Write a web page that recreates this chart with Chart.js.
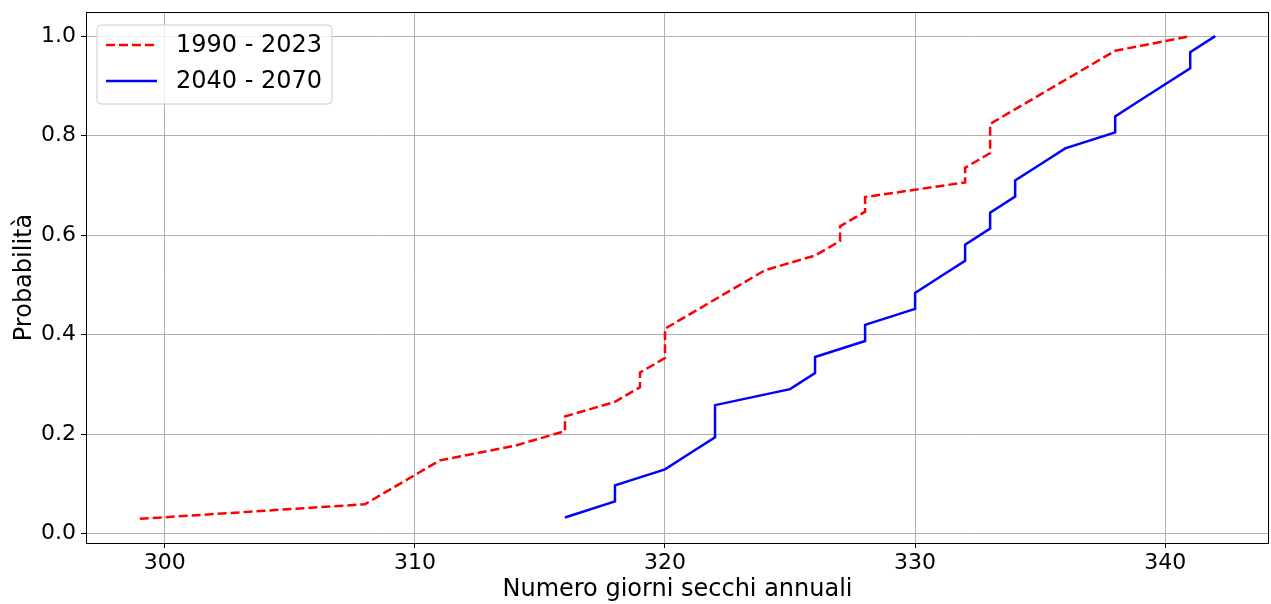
<!DOCTYPE html>
<html>
<head>
<meta charset="utf-8">
<script src="https://cdn.jsdelivr.net/npm/chart.js@4/dist/chart.umd.min.js"></script>
<style>
  html, body { margin: 0; padding: 0; background: #ffffff; }
  canvas { display: block; }
</style>
</head>
<body>
<canvas id="cdf" width="1271" height="604"></canvas>
<script>
// Annual number of dry days, one value per year, sorted ascending
const giorniSecchi_1990_2023 = [299, 308, 309, 310, 311, 314, 316, 316, 318, 319, 319, 320, 320, 320, 321, 322, 323, 324,
  326, 327, 327, 328, 328, 332, 332, 333, 333, 333, 334, 335, 336, 337, 338, 341];
const giorniSecchi_2040_2070 = [316, 318, 318, 320, 321, 322, 322, 322, 325, 326, 326, 328, 328, 330, 330, 331, 332, 332,
  333, 333, 334, 334, 335, 336, 338, 338, 339, 340, 341, 341, 342];

const seriesLabels = ['1990 - 2023', '2040 - 2070'];
const xTicks = [300, 310, 320, 330, 340];
const yTicks = [0.0, 0.2, 0.4, 0.6, 0.8, 1.0];

// Empirical cumulative distribution: k-th sorted value -> k / n
function ecdf(values) {
  const s = values.slice().sort((a, b) => a - b);
  return s.map((v, i) => ({ x: v, y: (i + 1) / s.length }));
}

const TICK_FONT = { family: 'DejaVu Sans', size: 22 };
const TITLE_FONT = { family: 'DejaVu Sans', size: 24 };
const GRID = '#b0b0b0';

const frameAndLegend = {
  id: 'frameAndLegend',
  afterDraw(chart) {
    const { ctx, chartArea: ca } = chart;
    ctx.save();
    // axes frame
    ctx.strokeStyle = '#000000';
    ctx.lineWidth = 1;
    ctx.strokeRect(Math.round(ca.left) + 0.5, Math.round(ca.top) + 0.5,
      Math.round(ca.right - ca.left) - 1, Math.round(ca.bottom - ca.top));

    // legend box
    const bx = ca.left + 11, by = ca.top + 13, bw = 235, bh = 79, r = 4;
    ctx.beginPath();
    ctx.moveTo(bx + r, by);
    ctx.arcTo(bx + bw, by, bx + bw, by + bh, r);
    ctx.arcTo(bx + bw, by + bh, bx, by + bh, r);
    ctx.arcTo(bx, by + bh, bx, by, r);
    ctx.arcTo(bx, by, bx + bw, by, r);
    ctx.closePath();
    ctx.fillStyle = 'rgba(255,255,255,0.8)';
    ctx.fill();
    ctx.strokeStyle = '#cccccc';
    ctx.lineWidth = 1;
    ctx.stroke();

    const rows = [by + 20, by + 56];
    chart.data.datasets.forEach((ds, i) => {
      const y = rows[i];
      ctx.beginPath();
      ctx.setLineDash(ds.borderDash || []);
      ctx.strokeStyle = ds.borderColor;
      ctx.lineWidth = ds.borderWidth;
      ctx.moveTo(bx + 9, y);
      ctx.lineTo(bx + 60, y);
      ctx.stroke();
      ctx.setLineDash([]);
      ctx.fillStyle = '#000000';
      ctx.font = '24px "DejaVu Sans"';
      ctx.textBaseline = 'middle';
      ctx.textAlign = 'left';
      ctx.fillText(ds.label, bx + 79, y + 1);
    });
    ctx.restore();
  }
};

new Chart(document.getElementById('cdf'), {
  type: 'line',
  data: {
    datasets: [
      {
        label: seriesLabels[0],
        data: ecdf(giorniSecchi_1990_2023),
        borderColor: '#ff0000',
        borderWidth: 2.5,
        borderDash: [9, 4],
        pointRadius: 0,
        tension: 0,
        fill: false
      },
      {
        label: seriesLabels[1],
        data: ecdf(giorniSecchi_2040_2070),
        borderColor: '#0000ff',
        borderWidth: 2.5,
        pointRadius: 0,
        tension: 0,
        fill: false
      }
    ]
  },
  options: {
    responsive: false,
    animation: false,
    layout: { padding: { top: 12, right: 2, left: 0, bottom: 0 } },
    plugins: { legend: { display: false }, tooltip: { enabled: false } },
    scales: {
      x: {
        type: 'linear',
        min: 296.85,
        max: 344.15,
        afterBuildTicks: (axis) => { axis.ticks = xTicks.map(v => ({ value: v })); },
        afterFit: (axis) => { axis.height = 61; axis.paddingLeft = 0; axis.paddingRight = 0; },
        ticks: {
          font: TICK_FONT, color: '#000000', padding: 2, maxRotation: 0, autoSkip: false,
          callback: (v) => String(v)
        },
        grid: { color: GRID, lineWidth: 1, tickColor: '#000000', tickLength: 5, drawTicks: true },
        border: { display: false },
        title: {
          display: true, text: 'Numero giorni secchi annuali', font: TITLE_FONT, color: '#000000',
          padding: { top: 0, bottom: 0 }
        }
      },
      y: {
        type: 'linear',
        min: -0.0191,
        max: 1.0485,
        afterBuildTicks: (axis) => { axis.ticks = yTicks.map(v => ({ value: v })); },
        afterFit: (axis) => { axis.width = 86; axis.paddingTop = 0; axis.paddingBottom = 0; },
        ticks: {
          font: TICK_FONT, color: '#000000', padding: 5, autoSkip: false,
          callback: (v) => Number(v).toFixed(1)
        },
        grid: { color: GRID, lineWidth: 1, tickColor: '#000000', tickLength: 5, drawTicks: true },
        border: { display: false },
        title: {
          display: true, text: 'Probabilità', font: TITLE_FONT, color: '#000000',
          padding: { top: 10, bottom: 0 }
        }
      }
    }
  },
  plugins: [frameAndLegend]
});
</script>
</body>
</html>
